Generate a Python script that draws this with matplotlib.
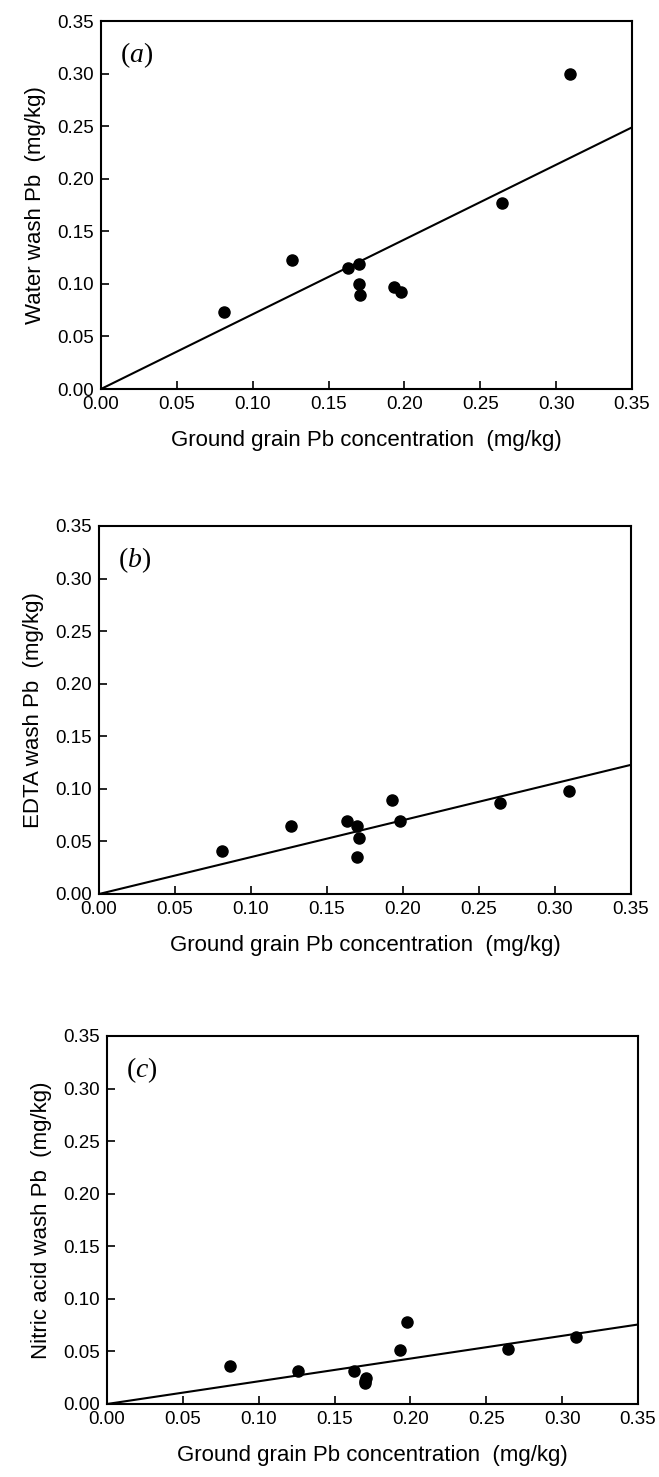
import numpy as np
import matplotlib
matplotlib.use('Agg')
import matplotlib.pyplot as plt

plt.rcParams['font.family'] = ['Liberation Sans', 'DejaVu Sans']
plt.rcParams['mathtext.fontset'] = 'custom'
plt.rcParams['mathtext.it'] = 'Liberation Serif:italic'
plt.rcParams['mathtext.rm'] = 'Liberation Serif'

# ground grain Pb (x) and wash Pb (y), mg/kg
grain_a = [0.081, 0.126, 0.163, 0.170, 0.170, 0.171, 0.193, 0.198, 0.264, 0.309]
water = [0.073, 0.123, 0.115, 0.119, 0.100, 0.089, 0.097, 0.092, 0.177, 0.300]

grain_b = [0.081, 0.126, 0.163, 0.170, 0.171, 0.170, 0.193, 0.198, 0.264, 0.309]
edta = [0.041, 0.065, 0.069, 0.065, 0.053, 0.035, 0.089, 0.069, 0.087, 0.098]

grain_c = [0.081, 0.126, 0.163, 0.171, 0.170, 0.170, 0.193, 0.198, 0.264, 0.309]
nitric = [0.036, 0.031, 0.031, 0.025, 0.022, 0.020, 0.051, 0.078, 0.052, 0.064]

# slopes of the fitted lines through the origin
slopes = [0.711, 0.351, 0.216]

panels = [
    ('a', grain_a, water, 'Water wash Pb  (mg/kg)'),
    ('b', grain_b, edta, 'EDTA wash Pb  (mg/kg)'),
    ('c', grain_c, nitric, 'Nitric acid wash Pb  (mg/kg)'),
]
W, H = 659, 1477
# axes boxes in pixels: left, top, right, bottom
boxes_px = [
    (101, 21, 632, 389),
    (99, 526, 631, 894),
    (107, 1036, 638, 1404),
]

ticks = np.arange(0, 0.351, 0.05)
fig = plt.figure(figsize=(W / 100, H / 100), dpi=100)

for (tag, gx, gy, ylab), (l, t, r, b), k in zip(panels, boxes_px, slopes):
    ax = fig.add_axes([l / W, 1 - b / H, (r - l) / W, (b - t) / H])
    xl = np.array([0, 0.35])
    ax.plot(xl, k * xl, color='black', lw=1.5, zorder=2)
    ax.plot(gx, gy, 'o', color='black', ms=8, zorder=3)
    ax.set_xlim(0, 0.35)
    ax.set_ylim(0, 0.35)
    ax.set_xticks(ticks)
    ax.set_yticks(ticks)
    ax.set_xticklabels([f'{v:.2f}' for v in ticks])
    ax.set_yticklabels([f'{v:.2f}' for v in ticks])
    ax.tick_params(direction='in', length=6, width=1.2, labelsize=13.5,
                   colors='black', pad=5)
    ax.tick_params(top=False, right=False)
    for s in ax.spines.values():
        s.set_linewidth(1.5)
    ax.set_xlabel('Ground grain Pb concentration  (mg/kg)', fontsize=16, labelpad=12)
    ax.set_ylabel(ylab, fontsize=16, labelpad=8)
    ax.text(0.036, 1 - 34 / (b - t), r'($\mathit{' + tag + r'}$)', transform=ax.transAxes,
            fontsize=20, va='center', ha='left', family='Liberation Serif')

fig.savefig('out.png', dpi=100)
